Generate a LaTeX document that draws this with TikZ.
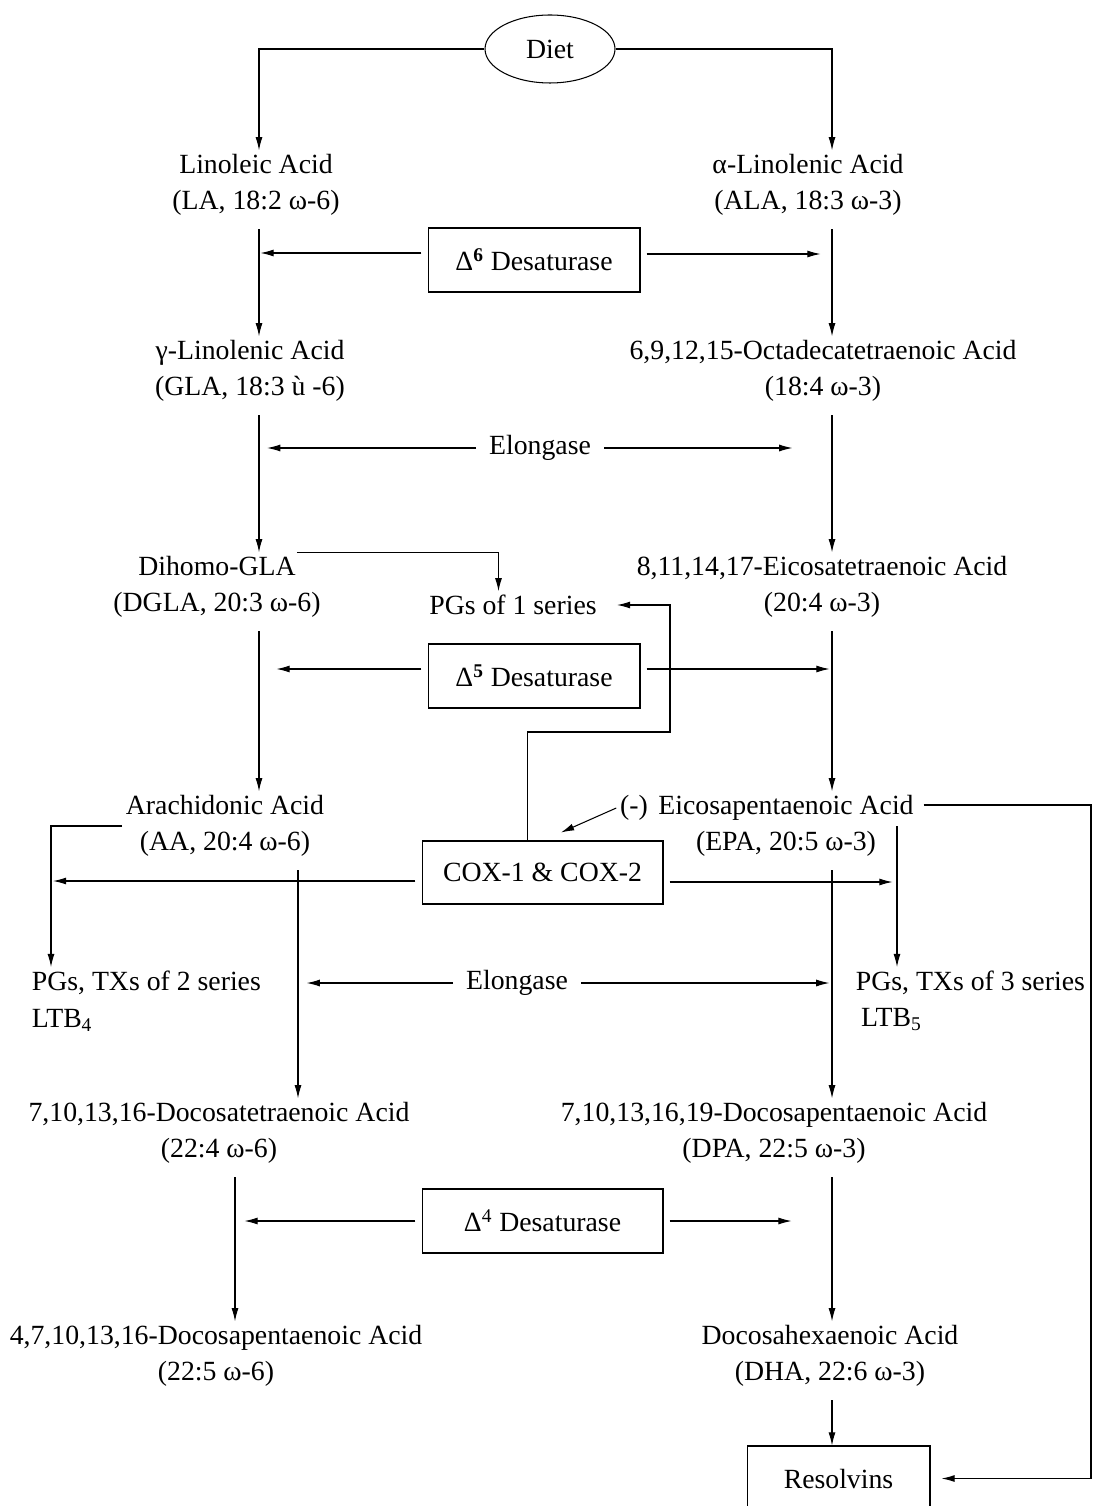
\documentclass[tikz,border=0pt]{standalone}
\usepackage{fontspec}
\setmainfont{Liberation Serif}
\usetikzlibrary{shapes.geometric, positioning, arrows.meta, calc}

\begin{document}
\begin{tikzpicture}[
            x=0.02cm, y=-0.02cm,
            every node/.style={font=\fontsize{15.8}{20.8}\selectfont},
            acid/.style={align=center, inner sep=2pt},
            txt/.style={inner sep=2pt},
            enzyme/.style={rectangle, draw, line width=0.6pt, minimum width=4.24cm, minimum height=1.28cm},
            oval/.style={ellipse, draw, line width=0.6pt, minimum width=2.6cm, minimum height=1.36cm},
            arrow/.style={line width=0.6pt, ->, >={Latex[length=7.5pt,width=4pt]}},
            flow/.style={arrow, shorten <=5.5pt},
            branch/.style={arrow, shorten <=3.5pt}
        ]
            \useasboundingbox (0,0) rectangle (1093,1506);

            % Columnas de las flechas verticales
            \coordinate (lcol) at (259,0);
            \coordinate (rcol) at (832,0);
            \coordinate (acol) at (298,0);
            \coordinate (dcol) at (235,0);
            \coordinate (pgl) at (51,0);
            \coordinate (pgr) at (897,0);
            \coordinate (far) at (1091,0);
            \coordinate (bend) at (670,732);

            % Dieta y acidos grasos
            \node (diet) [oval] at (550,49) {Diet};
            \node (la) [acid] at (256,185) {Linoleic Acid\\(LA, 18:2 ω-6)};
            \node (ala) [acid] at (808,185) {α-Linolenic Acid\\(ALA, 18:3 ω-3)};
            \node (gla) [acid] at (250,371) {γ-Linolenic Acid\\(GLA, 18:3 ù -6)};
            \node (oda) [acid] at (823,371) {6,9,12,15-Octadecatetraenoic Acid\\(18:4 ω-3)};
            \node (dgla) [acid] at (217,587) {Dihomo-GLA\\(DGLA, 20:3 ω-6)};
            \node (eta) [acid] at (822,587) {8,11,14,17-Eicosatetraenoic Acid\\(20:4 ω-3)};
            \node (aa) [acid] at (225,826) {Arachidonic Acid\\(AA, 20:4 ω-6)};
            \node (epa) [acid] at (786,826) {Eicosapentaenoic Acid\\(EPA, 20:5 ω-3)};
            \node (dta) [acid] at (219,1133) {7,10,13,16-Docosatetraenoic Acid\\(22:4 ω-6)};
            \node (dpa) [acid] at (774,1133) {7,10,13,16,19-Docosapentaenoic Acid\\(DPA, 22:5 ω-3)};
            \node (dpa6) [acid] at (216,1356) {4,7,10,13,16-Docosapentaenoic Acid\\(22:5 ω-6)};
            \node (dha) [acid] at (830,1356) {Docosahexaenoic Acid\\(DHA, 22:6 ω-3)};

            % Enzimas y productos
            \node (d6) [enzyme] at (534,260) {Δ\textsuperscript{\textbf{6}} Desaturase};
            \node (elo1) [txt, minimum width=2.3cm] at (540,448) {Elongase};
            \node (pg1) [txt] at (513,605) {PGs of 1 series};
            \node (d5) [enzyme] at (534,676) {Δ\textsuperscript{\textbf{5}} Desaturase};
            \node (minus) [txt] at (634,808) {(-)};
            \node (cox) [enzyme, minimum width=4.82cm, minimum height=1.26cm] at (542.5,872.5) {COX-1 \& COX-2};
            \node (pg2) [txt, anchor=west, align=left] at (28,1001) {PGs, TXs of 2 series\\LTB\textsubscript{4}};
            \node (elo2) [txt, minimum width=2.3cm] at (517,983) {Elongase};
            \node (pg3) [txt, anchor=west, align=left] at (852,1001) {PGs, TXs of 3 series\\\hspace{3pt}LTB\textsubscript{5}};
            \node (d4) [enzyme, minimum width=4.82cm] at (542.5,1221) {Δ\textsuperscript{4} Desaturase};
            \node (res) [enzyme, minimum width=3.66cm, minimum height=1.3cm] at (838.5,1478.5) {Resolvins};

            % Flechas desde la dieta
            \draw [arrow] (diet.west) -| (la.north -| lcol);
            \draw [arrow] (diet.east) -| (ala.north -| rcol);

            % Flechas verticales de la ruta
            \draw [flow] (la.south -| lcol) -- (gla.north -| lcol);
            \draw [flow] (ala.south -| rcol) -- (oda.north -| rcol);
            \draw [flow] (gla.south -| lcol) -- (dgla.north -| lcol);
            \draw [flow] (oda.south -| rcol) -- (eta.north -| rcol);
            \draw [flow] (dgla.south -| lcol) -- (aa.north -| lcol);
            \draw [flow] (eta.south -| rcol) -- (epa.north -| rcol);
            \draw [flow] (aa.south -| acol) -- (dta.north -| acol);
            \draw [flow] (epa.south -| rcol) -- (dpa.north -| rcol);
            \draw [flow] (dta.south -| dcol) -- (dpa6.north -| dcol);
            \draw [flow] (dpa.south -| rcol) -- (dha.north -| rcol);
            \draw [flow] (dha.south -| rcol) -- (res.north -| rcol);

            % Flechas de las enzimas
            \draw [branch] ([yshift=0.14cm]d6.west) -- ++(-167,0);
            \draw [branch] ([yshift=0.12cm]d6.east) -- ++(180,0);
            \draw [branch] (elo1.west) -- ++(-215,0);
            \draw [branch] (elo1.east) -- ++(194.5,0);
            \draw [branch] ([yshift=0.14cm]d5.west) -- ++(-151,0);
            \draw [branch] ([yshift=0.14cm]d5.east) -- ++(189,0);
            \draw [branch] ([yshift=-0.17cm]cox.west) -- ++(-368.5,0);
            \draw [branch] ([yshift=-0.19cm]cox.east) -- ++(229,0);
            \draw [branch] (elo2.west) -- ++(-152.5,0);
            \draw [branch] (elo2.east) -- ++(254.5,0);
            \draw [branch] (d4.west) -- ++(-177,0);
            \draw [branch] (d4.east) -- ++(128,0);

            % Eicosanoides y resolvinas
            \draw [arrow] ([xshift=1.6cm]dgla.north) -| ([xshift=-0.29cm]pg1.north);
            \draw [arrow, shorten >=0.33cm] ([xshift=-0.3cm]cox.north) |- (bend) |- (pg1.east);
            \draw [arrow] (minus.west) -- ([xshift=0.37cm,yshift=0.16cm]cox.north);
            \draw [arrow] (aa.west) -| (pg2.north -| pgl);
            \draw [arrow] (epa.east -| pgr) -- (pg3.north -| pgr);
            \draw [branch, shorten >=0.22cm] ([yshift=0.42cm]epa.east) -| (far |- res.east) -- (res.east);

        \end{tikzpicture}
\end{document}
